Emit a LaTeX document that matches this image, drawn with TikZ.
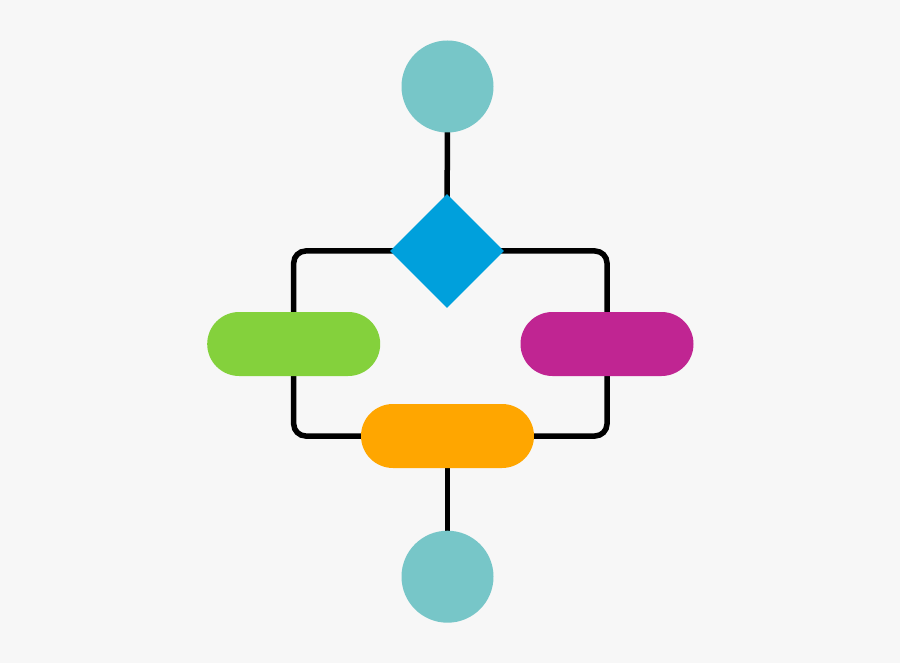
\documentclass[tikz,border=0pt]{standalone}
\usepackage{tikz}
\usetikzlibrary{shapes.geometric,shapes.misc}
\pgfdeclarelayer{bg}
\pgfsetlayers{bg,main}

\definecolor{paper}{HTML}{F7F7F7}
\definecolor{teal}{HTML}{77C6C8}
\definecolor{sky}{HTML}{00A0DC}
\definecolor{lime}{HTML}{84D13C}
\definecolor{berry}{HTML}{C02592}
\definecolor{amber}{HTML}{FFA600}

\tikzset{
    terminal/.style={circle, fill=teal, draw=none, inner sep=0pt, minimum size=92pt},
    decision/.style={diamond, fill=sky, draw=none, inner sep=0pt, minimum width=114pt, minimum height=114pt},
    process/.style={rounded rectangle, draw=none, inner sep=0pt, minimum width=173pt, minimum height=64pt},
    link/.style={draw=black, line width=5.5pt, rounded corners=12pt}
}

\begin{document}
\begin{tikzpicture}[x=1pt, y=-1pt]
        \node[terminal] (Start) at (447.5,86.5) {};
        \node[decision] (Choice) at (447,251) {};
        \node[process, fill=lime] (Left) at (293.7,344) {};
        \node[process, fill=berry] (Right) at (607,344) {};
        \node[process, fill=amber] (Merge) at (447.5,436) {};
        \node[terminal] (Stop) at (447.5,576.7) {};
        \begin{pgfonlayer}{bg}
            \fill[paper] (0,0) rectangle (900,663);
            \draw[link] (Start.center) -- (Choice.center);
            \draw[link] (Choice.center) -| (Left.center) |- (Merge.center);
            \draw[link] (Choice.center) -| (Right.center) |- (Merge.center);
            \draw[link] (Merge.center) -- (Stop.center);
        \end{pgfonlayer}
\end{tikzpicture}
\end{document}
